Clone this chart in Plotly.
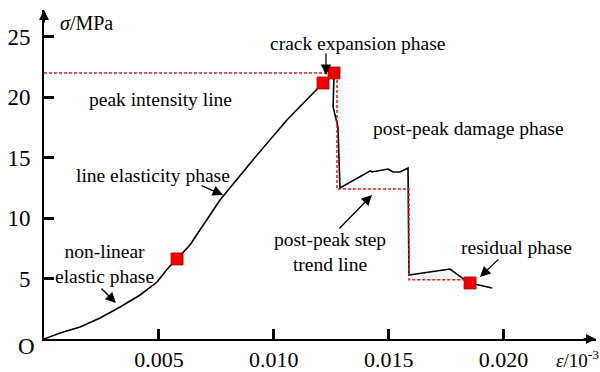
import plotly.graph_objects as go

# Stress-strain curve (strain, stress in MPa)
strain = [0.0, 0.00070, 0.00157, 0.00244, 0.00331, 0.00418, 0.00492, 0.00540,
          0.00579, 0.00635, 0.00766, 0.00909, 0.01057, 0.01214, 0.01262,
          0.01258, 0.01279, 0.01288, 0.01388, 0.01419, 0.01427, 0.01497,
          0.01519, 0.01549, 0.01584, 0.01588, 0.01767, 0.01819, 0.01854, 0.01950]
stress = [0.0, 0.50, 0.99, 1.74, 2.65, 3.64, 4.71, 5.87,
          6.62, 7.78, 11.50, 14.81, 18.11, 21.17, 22.0,
          19.19, 17.54, 12.49, 13.56, 13.90, 13.81, 14.06,
          13.81, 13.81, 14.14, 5.29, 5.79, 5.05, 4.63, 4.22]

# Phase boundary points
key_strain = [0.00579, 0.01214, 0.01262, 0.01854]
key_stress = [6.62, 21.17, 22.0, 4.63]

# Peak intensity line and post-peak step trend line
step_strain = [0.0, 0.01275, 0.01275, 0.01588, 0.01588, 0.01854]
step_stress = [22.0, 22.0, 12.4, 12.4, 4.9, 4.9]

x_ticks = [0.005, 0.010, 0.015, 0.020]
x_tick_text = ["0.005", "0.010", "0.015", "0.020"]
y_ticks = [5, 10, 15, 20, 25]

SERIF = "Liberation Serif"
X_MAX = 0.02402
Y_MAX = 27.21

fig = go.Figure()

fig.add_trace(go.Scatter(x=strain, y=stress, mode="lines",
                         line=dict(color="black", width=1.6), hoverinfo="skip"))
fig.add_trace(go.Scatter(x=step_strain, y=step_stress, mode="lines",
                         line=dict(color="#e8141b", width=1.5, dash="3px,2px"),
                         hoverinfo="skip"))
fig.add_trace(go.Scatter(x=key_strain, y=key_stress, mode="markers",
                         marker=dict(symbol="square", size=12, color="#f00000",
                                     line=dict(color="#a00000", width=0.8)),
                         hoverinfo="skip"))

labels = [
    ("crack expansion phase", 0.01366, 24.48),
    ("peak intensity line", 0.00505, 19.77),
    ("post-peak damage phase", 0.01845, 17.45),
    ("line elasticity phase", 0.00474, 13.56),
    ("non-linear<br>elastic phase", 0.00265, 6.2),
    ("post-peak step<br>trend line", 0.01245, 7.2),
    ("residual phase", 0.02058, 7.53),
]
for text, x, y in labels:
    fig.add_annotation(x=x, y=y, text=text, showarrow=False,
                       font=dict(family=SERIF, size=19.5, color="black"),
                       xanchor="center", yanchor="middle")

# Pointer arrows: (tip x, tip y, tail offset x px, tail offset y px)
pointers = [
    (0.01227, 21.84, 0, -23),
    (0.00779, 11.91, -23, -10),
    (0.00313, 2.98, -16, -16),
    (0.01427, 11.91, -34, 35),
    (0.01897, 5.13, 20, -19),
]
for x, y, ax, ay in pointers:
    fig.add_annotation(x=x, y=y, ax=ax, ay=ay, text="", showarrow=True,
                       arrowhead=2, arrowsize=1.6, arrowwidth=1.3,
                       arrowcolor="black")

# Axis arrowheads
fig.add_annotation(x=1, y=0, xref="paper", yref="paper", ax=-14, ay=0,
                   text="", showarrow=True, arrowhead=2, arrowsize=1,
                   arrowwidth=2, arrowcolor="black")
fig.add_annotation(x=0, y=1, xref="paper", yref="paper", ax=0, ay=14,
                   text="", showarrow=True, arrowhead=2, arrowsize=1,
                   arrowwidth=2, arrowcolor="black")

# Axis titles and origin
fig.add_annotation(x=0.025, y=1.0, xref="paper", yref="paper",
                   text="<i>σ</i>/MPa", showarrow=False,
                   xanchor="left", yanchor="top",
                   font=dict(family=SERIF, size=20, color="black"))
fig.add_annotation(x=0.924, y=-0.062, xref="paper", yref="paper",
                   text="<i>ε</i>/10<sup>-3</sup>",
                   showarrow=False, xanchor="left", yanchor="middle",
                   font=dict(family=SERIF, size=19, color="black"))
fig.add_annotation(x=-0.0326, y=-0.0243, xref="paper", yref="paper",
                   text="O", showarrow=False,
                   xanchor="center", yanchor="middle",
                   font=dict(family=SERIF, size=23, color="black"))

axis_common = dict(showgrid=False, zeroline=False, showline=True,
                   linecolor="black", linewidth=2, automargin=False,
                   ticks="inside", ticklen=10, tickwidth=2.5,
                   tickcolor="black")

fig.update_xaxes(range=[0, X_MAX], tickvals=x_ticks, ticktext=x_tick_text,
                 ticklabelstandoff=0,
                 tickfont=dict(family=SERIF, size=22, color="black"),
                 **axis_common)
fig.update_yaxes(range=[0, Y_MAX], tickvals=y_ticks, ticklabelstandoff=7,
                 tickfont=dict(family=SERIF, size=23, color="black"),
                 **axis_common)

fig.update_layout(width=600, height=372, showlegend=False,
                  margin=dict(l=44, r=4, t=10, b=33),
                  plot_bgcolor="white", paper_bgcolor="white")

fig.write_html("out.html")
